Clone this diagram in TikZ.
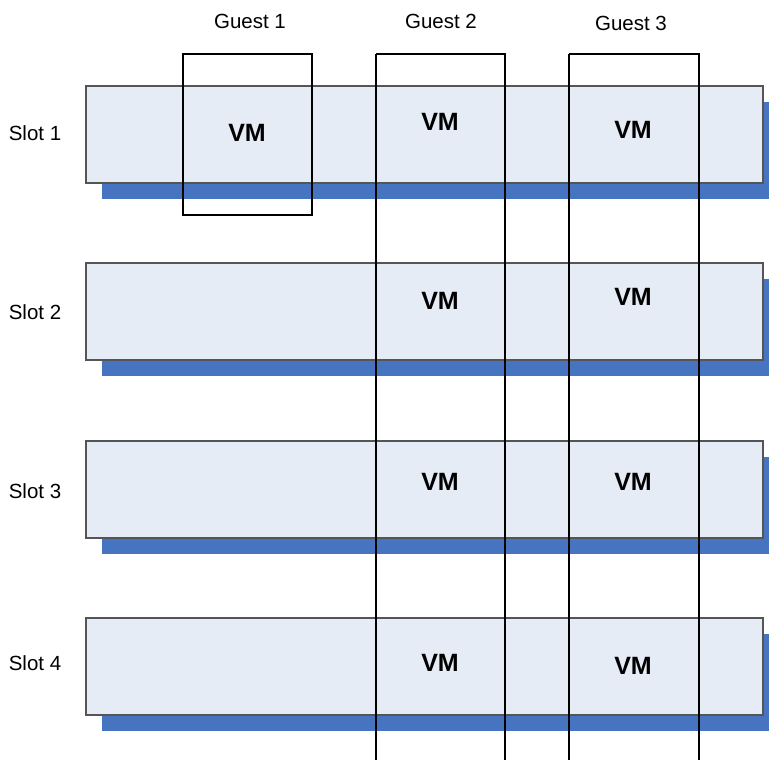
\documentclass[tikz,border=0pt]{standalone}
\usepackage{fontspec}
\setmainfont{Liberation Sans}
\definecolor{slotfill}{HTML}{E6ECF6}
\definecolor{shadowblue}{HTML}{4674C0}
\definecolor{slotline}{HTML}{555555}
\begin{document}
\begin{tikzpicture}[x=1pt,y=-1pt,
  slotbox/.style={draw=slotline,line width=1.2pt,fill=slotfill},
  shadowbox/.style={fill=shadowblue,draw=none},
  guestbox/.style={draw=black,line width=1.4pt},
  vmlabel/.style={font=\fontsize{25}{28}\selectfont\bfseries,inner sep=0pt},
  lbl/.style={font=\fontsize{20.5}{24}\selectfont,inner sep=0pt}]
\useasboundingbox (0,0) rectangle (769,760);
\begin{scope}
\clip (0,0) rectangle (769,760);
% slots
\foreach \t/\n in {86/1,263/2,441/3,618/4}{
  \fill[shadowbox] (102,\t+16) rectangle (790,\t+113);
  \draw[slotbox] (86,\t) rectangle (763,\t+97);
}
% guests
\draw[guestbox] (183,54) rectangle (312,215);
\draw[guestbox] (376,54) -- (376,770) (505,770) -- (505,54) -- (376,54);
\draw[guestbox] (569,54) -- (569,770) (699,770) -- (699,54) -- (569,54);
\end{scope}
% labels
\node[lbl] (g1) at (250,21) {Guest 1};
\node[lbl] (g2) at (441,21) {Guest 2};
\node[lbl] (g3) at (631,23) {Guest 3};
\node[lbl] (s1) at (35,133) {Slot 1};
\node[lbl] (s2) at (35,312) {Slot 2};
\node[lbl] (s3) at (35,491) {Slot 3};
\node[lbl] (s4) at (35,663) {Slot 4};
\node[vmlabel] (v11) at (247,133) {VM};
\node[vmlabel] (v12) at (440,122) {VM};
\node[vmlabel] (v13) at (633,130) {VM};
\node[vmlabel] (v22) at (440,301) {VM};
\node[vmlabel] (v23) at (633,297) {VM};
\node[vmlabel] (v32) at (440,482) {VM};
\node[vmlabel] (v33) at (633,482) {VM};
\node[vmlabel] (v42) at (440,663) {VM};
\node[vmlabel] (v43) at (633,666) {VM};
\end{tikzpicture}
\end{document}
